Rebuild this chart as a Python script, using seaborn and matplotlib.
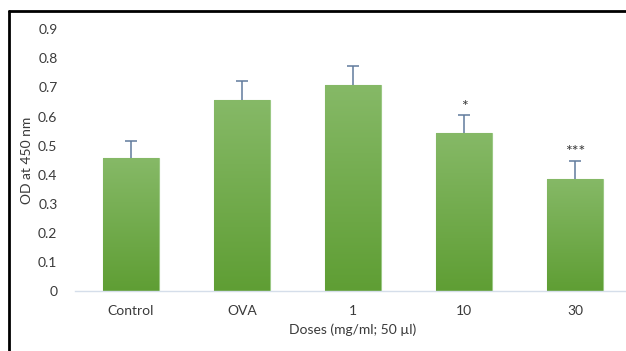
import numpy as np
import pandas as pd
import seaborn as sns
import matplotlib.pyplot as plt
from matplotlib.colors import LinearSegmentedColormap
from matplotlib.lines import Line2D

# values
doses = ['Control', 'OVA', '1', '10', '30']
od = [0.456, 0.656, 0.709, 0.544, 0.386]
sd = [0.061, 0.065, 0.066, 0.061, 0.062]
stars = ['', '', '', '*', '***']
yticks = [0, 0.1, 0.2, 0.3, 0.4, 0.5, 0.6, 0.7, 0.8, 0.9]

data = pd.DataFrame({'Dose': doses, 'OD': od})

sns.set_style('white')
plt.rcParams['font.family'] = ['Lato', 'DejaVu Sans']
text_col = '#3a3a3a'

fig = plt.figure(figsize=(6.26, 3.51), dpi=100)
ax = fig.add_axes([0.1206, 0.1709, 0.8866, 0.7456])

sns.barplot(x='Dose', y='OD', data=data, color='#70ad47', width=0.5,
            errorbar=None, ax=ax, zorder=2)

# vertical green gradient inside each bar
grad = LinearSegmentedColormap.from_list('g', ['#5f9e34', '#86b967'])
img = np.linspace(0, 1, 256).reshape(-1, 1)
for p in ax.patches:
    x0, y0 = p.get_x(), p.get_y()
    w, h = p.get_width(), p.get_height()
    p.set_edgecolor('#9bc884')
    p.set_linewidth(0.8)
    im = ax.imshow(img, cmap=grad, origin='lower', aspect='auto',
                   extent=[x0, x0 + w, y0, y0 + h], zorder=2.5)
    im.set_clip_path(p)

# upward-only error bars (hide the lower cap)
xs = np.arange(len(doses))
eb = ax.errorbar(xs, od, yerr=[np.zeros(len(sd)), sd], fmt='none',
                 ecolor='#607a9c', elinewidth=1.1, capsize=4, capthick=1.1,
                 zorder=3)
eb[1][0].set_visible(False)

for x, v, e, s in zip(xs, od, sd, stars):
    if s:
        ax.text(x, v + e + 0.005, s, ha='center', va='bottom',
                fontsize=11.5, color=text_col, zorder=4)

ax.set_xlim(-0.5, len(doses) - 0.5)
ax.set_ylim(0, 0.9)
ax.set_yticks(yticks)
ax.set_yticklabels([('%g' % t) for t in yticks])
ax.tick_params(axis='both', length=0, labelsize=10, colors=text_col)
ax.tick_params(axis='y', pad=13)
ax.tick_params(axis='x', pad=10)
ax.set_xlabel('Doses (mg/ml; 50 µl)', fontsize=10, color=text_col, labelpad=5)
ax.set_ylabel('OD at 450 nm', fontsize=10, color=text_col, labelpad=4)

for side in ['top', 'right', 'left']:
    ax.spines[side].set_visible(False)
ax.spines['bottom'].set_color('#d5deea')
ax.spines['bottom'].set_linewidth(1.0)

# the black frame of the cropped picture (top and left sides only)
fig.add_artist(Line2D([9 / 626, 1.0], [1 - 11 / 351, 1 - 11 / 351],
                      transform=fig.transFigure, color='black', lw=2))
fig.add_artist(Line2D([9 / 626, 9 / 626], [0, 1 - 11 / 351],
                      transform=fig.transFigure, color='black', lw=2))

fig.savefig('out.png', dpi=100)
plt.close(fig)
